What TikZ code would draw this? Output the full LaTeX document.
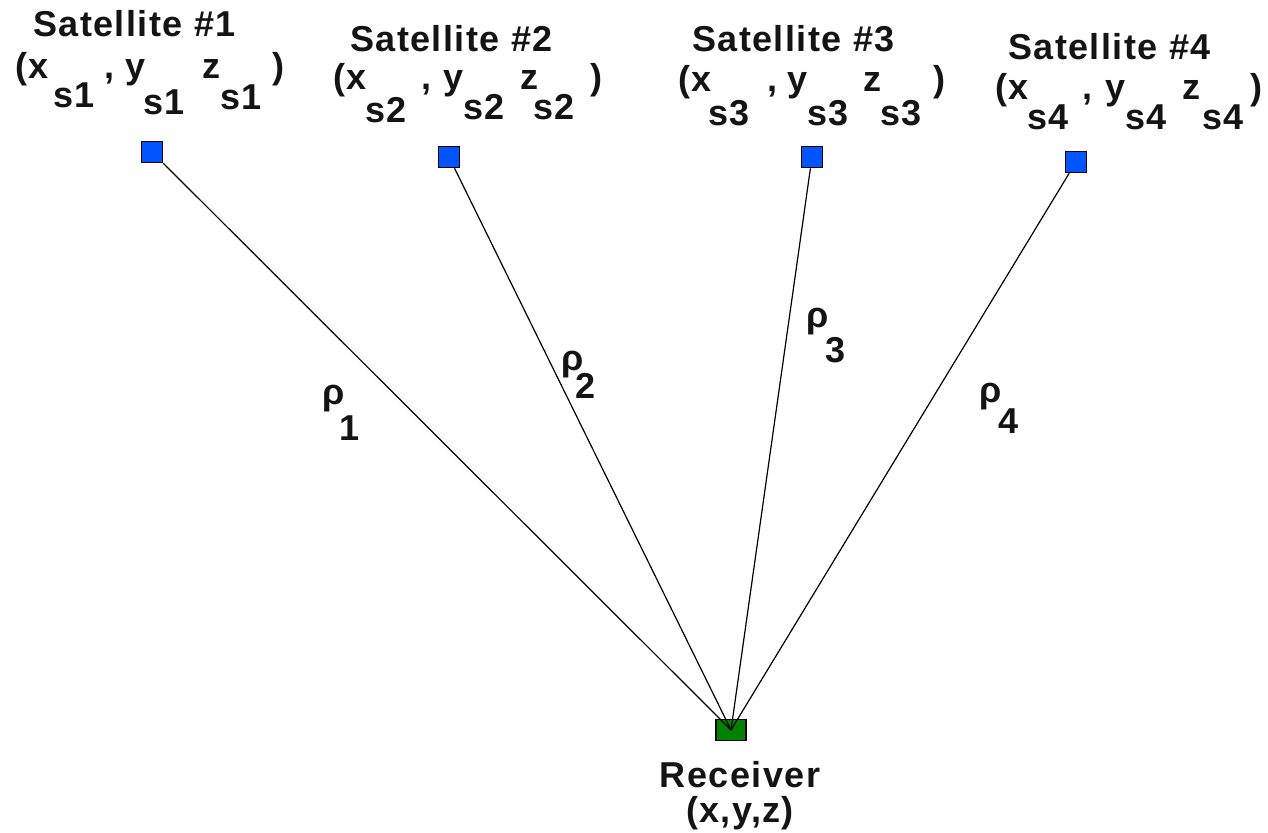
\documentclass[tikz,border=0pt]{standalone}
\usepackage{fontspec}
\setmainfont{Liberation Sans}[LetterSpace=4]
\definecolor{satblue}{RGB}{0,85,255}
\definecolor{rcvgreen}{RGB}{0,130,0}
\definecolor{ink}{RGB}{20,20,20}
\tikzset{
  txt/.style={font=\fontsize{36}{40}\selectfont\bfseries, inner sep=0pt, anchor=base west, text=ink},
  ctxt/.style={txt, anchor=base},
  satbox/.style={draw=black, line width=1.6pt, fill=satblue, minimum size=21pt, inner sep=0pt},
  rcvbox/.style={draw=black, line width=1.6pt, fill=rcvgreen, minimum width=30pt, minimum height=21pt, inner sep=0pt},
  ray/.style={draw=black, line width=1.2pt}
}
\begin{document}
\begin{tikzpicture}[x=1pt,y=-1pt]
\useasboundingbox (0,0) rectangle (1268,832);
% satellites
\node[satbox] (s1) at (152,152) {};
\node[satbox] (s2) at (449,157) {};
\node[satbox] (s3) at (812,157) {};
\node[satbox] (s4) at (1076,162) {};
\node[rcvbox] (r) at (731,730) {};
% rays
\draw[ray] (s1) -- (r.center);
\draw[ray] (s2) -- (r.center);
\draw[ray] (s3) -- (r.center);
\draw[ray] (s4) -- (r.center);
% titles
\node[txt] (t1) at (33,37) {Satellite \#1};
\node[txt] (t2) at (350,52) {Satellite \#2};
\node[txt] (t3) at (692,52) {Satellite \#3};
\node[txt] (t4) at (1008,60) {Satellite \#4};
% coordinates sat 1
\node[txt] (a1) at (15,79) {(x};
\node[txt] (a2) at (53,108) {s1};
\node[txt] (a3) at (104,79) {,};
\node[txt] (a4) at (125,79) {y};
\node[txt] (a5) at (143,115) {s1};
\node[txt] (a6) at (202,79) {z};
\node[txt] (a7) at (220,110) {s1};
\node[txt] (a8) at (272,79) {)};
% sat 2
\node[txt] (b1) at (333,90) {(x};
\node[txt] (b2) at (365,122) {s2};
\node[txt] (b3) at (421,90) {,};
\node[txt] (b4) at (443,90) {y};
\node[txt] (b5) at (463,120) {s2};
\node[txt] (b6) at (520,90) {z};
\node[txt] (b7) at (533,120) {s2};
\node[txt] (b8) at (590,90) {)};
% sat 3
\node[txt] (c1) at (678,92) {(x};
\node[txt] (c2) at (708,125) {s3};
\node[txt] (c3) at (767,92) {,};
\node[txt] (c4) at (787,92) {y};
\node[txt] (c5) at (807,125) {s3};
\node[txt] (c6) at (863,92) {z};
\node[txt] (c7) at (880,125) {s3};
\node[txt] (c8) at (933,92) {)};
% sat 4
\node[txt] (d1) at (995,100) {(x};
\node[txt] (d2) at (1027,130) {s4};
\node[txt] (d3) at (1082,100) {,};
\node[txt] (d4) at (1105,100) {y};
\node[txt] (d5) at (1125,130) {s4};
\node[txt] (d6) at (1182,100) {z};
\node[txt] (d7) at (1202,130) {s4};
\node[txt] (d8) at (1250,100) {)};
% ranges
\node[txt] (p1) at (322,404) {ρ};
\node[txt] (q1) at (339,440) {1};
\node[txt] (p2) at (561,370) {ρ};
\node[txt] (q2) at (575,398) {2};
\node[txt] (p3) at (806,327) {ρ};
\node[txt] (q3) at (825,362) {3};
\node[txt] (p4) at (979,402) {ρ};
\node[txt] (q4) at (998,433) {4};
% receiver
\node[ctxt] (rl) at (740,787) {Receiver};
\node[ctxt] (rc) at (740,822) {(x,y,z)};
\end{tikzpicture}
\end{document}
